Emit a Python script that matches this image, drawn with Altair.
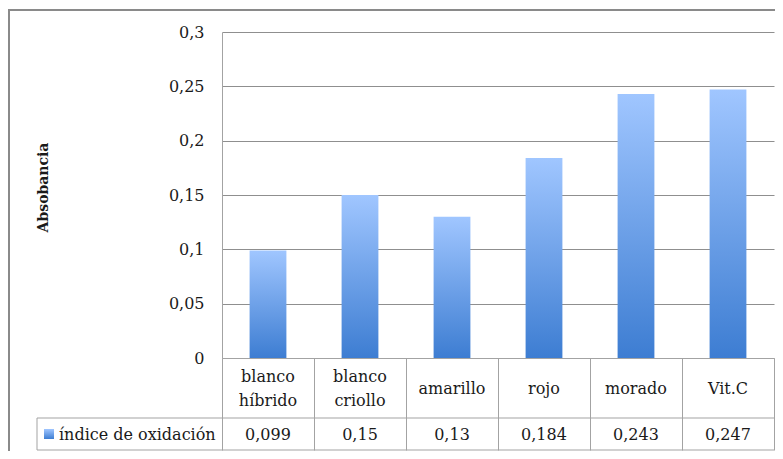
import altair as alt
import pandas as pd

categories = ["blanco híbrido", "blanco criollo", "amarillo", "rojo", "morado", "Vit.C"]
cat_labels = ["blanco\nhíbrido", "blanco\ncriollo", "amarillo", "rojo", "morado", "Vit.C"]
values = [0.099, 0.15, 0.13, 0.184, 0.243, 0.247]
y_ticks = [0, 0.05, 0.1, 0.15, 0.2, 0.25, 0.3]
series_name = "índice de oxidación"
y_title = "Absobancia"

df = pd.DataFrame({"cat": categories, "label": cat_labels, "value": values})
one = pd.DataFrame({"k": [0]})

FONT = "DejaVu Serif"
FS = 16
TXT = "#1a1a1a"
GRID = "#8f8f8f"
TABLE = "#a3a3a3"
W, H = 552, 326

grad = alt.LinearGradient(
    gradient="linear",
    stops=[alt.GradientStop(color="#a0c6ff", offset=0),
           alt.GradientStop(color="#3d7dd2", offset=1)],
    x1=0, x2=0, y1=0, y2=1,
)

xenc = alt.X(
    "cat:N", sort=categories,
    scale=alt.Scale(paddingInner=0, paddingOuter=0),
    axis=alt.Axis(title=None, labels=False, domain=True, domainColor=TABLE,
                  ticks=True, tickBand="extent", tickSize=92, tickColor=TABLE,
                  grid=False, orient="bottom"),
)

frame = alt.Chart(one).mark_rect(fillOpacity=0, stroke="#8a8a8a", strokeWidth=2).encode(
    x=alt.value(-213), x2=alt.value(570), y=alt.value(-22), y2=alt.value(440)
)

bars = alt.Chart(df).mark_bar(color=grad, width=alt.RelativeBandSize(0.4)).encode(
    x=xenc,
    y=alt.Y("value:Q", scale=alt.Scale(domain=[0, 0.3], nice=False),
            axis=alt.Axis(values=y_ticks, format="~g",
                          labelExpr="replace(datum.label, '.', ',')",
                          labelFont=FONT, labelFontSize=FS, labelColor=TXT,
                          labelPadding=18, ticks=False, tickSize=0,
                          domain=True, domainColor=TABLE,
                          grid=True, gridColor=GRID,
                          title=y_title, titleFont=FONT, titleFontSize=14,
                          titleFontWeight="bold", titleColor=TXT,
                          titleAngle=270, titleX=-179, titleY=155,
                          titleAlign="center", titleBaseline="middle")),
)

cat_text = alt.Chart(df).transform_calculate(
    ty="indexof(datum.label, '\\n') >= 0 ? 345 : 357"
).mark_text(font=FONT, fontSize=FS, color=TXT, lineBreak="\n",
            lineHeight=24, baseline="middle", align="center").encode(
    x=xenc, y=alt.Y("ty:Q", scale=None), text="label:N"
)

val_text = alt.Chart(df).transform_calculate(
    vtext="replace('' + datum.value, '.', ',')"
).mark_text(font=FONT, fontSize=FS, color=TXT, baseline="middle", align="center").encode(
    x=xenc, y=alt.value(403), text="vtext:N"
)

hline1 = alt.Chart(one).mark_rule(color=TABLE, strokeWidth=1).encode(
    x=alt.value(-185), x2=alt.value(W), y=alt.value(386)
)
hline2 = alt.Chart(one).mark_rule(color=TABLE, strokeWidth=1).encode(
    x=alt.value(-185), x2=alt.value(W), y=alt.value(418)
)
vline = alt.Chart(one).mark_rule(color=TABLE, strokeWidth=1).encode(
    x=alt.value(-185), y=alt.value(386), y2=alt.value(418)
)

legend_sq = alt.Chart(one).mark_rect(color=grad).encode(
    x=alt.value(-178), x2=alt.value(-168), y=alt.value(397), y2=alt.value(407)
)
legend_txt = alt.Chart(one).transform_calculate(name=f"'{series_name}'").mark_text(
    font=FONT, fontSize=FS, color=TXT, align="left", baseline="middle"
).encode(x=alt.value(-163), y=alt.value(403), text="name:N")

chart = alt.layer(
    frame, bars, cat_text, val_text, hline1, hline2, vline, legend_sq, legend_txt
).properties(
    width=W, height=H,
    autosize=alt.AutoSizeParams(type="none"),
    padding={"left": 214, "top": 24, "right": 1, "bottom": 93},
).configure_view(strokeWidth=0)

chart.save("out.html", embed_options={"renderer": "svg", "actions": False})
